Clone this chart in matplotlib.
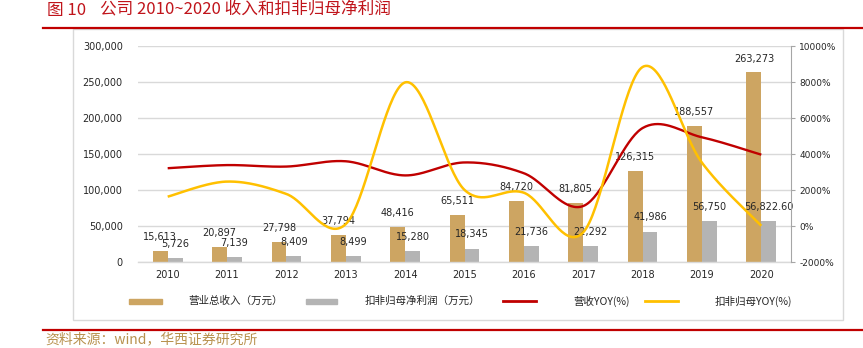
import numpy as np
import matplotlib
matplotlib.use("Agg")
import matplotlib.pyplot as plt
from matplotlib.patches import Rectangle
from matplotlib.lines import Line2D
from matplotlib.ticker import FuncFormatter, FixedLocator

plt.rcParams['font.family'] = ['DejaVu Sans']
CJK = ['Noto Sans CJK SC', 'DejaVu Sans']

# ---- data ----
years = ['2010', '2011', '2012', '2013', '2014', '2015',
         '2016', '2017', '2018', '2019', '2020']
revenue = [15613, 20897, 27798, 37794, 48416, 65511,
           84720, 81805, 126315, 188557, 263273]
profit = [5726, 7139, 8409, 8499, 15280, 18345,
          21736, 22292, 41986, 56750, 56822.60]
revenue_labels = ['15,613', '20,897', '27,798', '37,794', '48,416', '65,511',
                  '84,720', '81,805', '126,315', '188,557', '263,273']
profit_labels = ['5,726', '7,139', '8,409', '8,499', '15,280', '18,345',
                 '21,736', '22,292', '41,986', '56,750', '56,822.60']
revenue_yoy = [3210, 3384, 3302, 3596, 2810, 3531, 2932, 1110, 5441, 4928, 3962]
profit_yoy = [1630, 2468, 1779, 107, 7979, 2006, 1848, -350, 8835, 3516, 13]

legend_names = ['营业总收入（万元）', '扣非归母净利润（万元）', '营收YOY(%)', '扣非归母YOY(%)']

C_TAN = '#CDA562'
C_GREY = '#B4B4B4'
C_RED = '#C00000'
C_YEL = '#FFC000'
C_GRID = '#D9D9D9'
C_TXT = '#262626'

W, H = 863, 348


def fx(px):
    return px / W


def fy(py):
    return 1 - py / H


def smooth(xs, ys, n=40):
    """Bezier smoothing through every point (Catmull-Rom style control points)."""
    P = np.column_stack([xs, ys]).astype(float)
    Pp = np.vstack([P[0], P, P[-1]])
    out = []
    t = np.linspace(0, 1, n)[:, None]
    for i in range(len(P) - 1):
        p0, p1, p2, p3 = Pp[i], Pp[i + 1], Pp[i + 2], Pp[i + 3]
        b1 = p1 + (p2 - p0) / 6
        b2 = p2 - (p3 - p1) / 6
        seg = ((1 - t) ** 3) * p1 + 3 * ((1 - t) ** 2) * t * b1 + 3 * (1 - t) * t ** 2 * b2 + t ** 3 * p2
        out.append(seg if i == 0 else seg[1:])
    out = np.vstack(out)
    return out[:, 0], out[:, 1]


fig = plt.figure(figsize=(W / 100, H / 100), dpi=100)

# frame around the chart
fig.add_artist(Rectangle((fx(73), fy(320)), fx(843) - fx(73), fy(29) - fy(320),
                         transform=fig.transFigure, fill=False, ec=C_GRID, lw=1.0))

ax = fig.add_axes([fx(138), fy(262), fx(791) - fx(138), fy(46) - fy(262)])
x = np.arange(len(years))
bw = 0.25
b1 = ax.bar(x - bw / 2, revenue, bw, color=C_TAN, zorder=2)
b2 = ax.bar(x + bw / 2, profit, bw, color=C_GREY, zorder=2)

for xi, v, s in zip(x, revenue, revenue_labels):
    ax.annotate(s, (xi - bw / 2, v), xytext=(0, 10), textcoords='offset points',
                ha='center', va='center', fontsize=7, color=C_TXT, zorder=5)
for xi, v, s in zip(x, profit, profit_labels):
    ax.annotate(s, (xi + bw / 2, v), xytext=(0, 10.3), textcoords='offset points',
                ha='center', va='center', fontsize=7, color=C_TXT, zorder=5)

ax.set_xlim(-0.5, len(years) - 0.5)
ax.set_ylim(0, 300000)
ax.yaxis.set_major_locator(FixedLocator(np.arange(0, 300001, 50000)))
ax.yaxis.set_major_formatter(FuncFormatter(lambda v, p: f'{v:,.0f}'))
ax.set_xticks(x)
ax.set_xticklabels(years)
ax.tick_params(axis='x', length=0, pad=6, labelsize=7, labelcolor=C_TXT)
ax.tick_params(axis='y', length=0, pad=11, labelsize=7, labelcolor=C_TXT)
ax.grid(axis='y', color=C_GRID, lw=1.0, zorder=0)
ax.set_axisbelow(True)
for s in ['left', 'right', 'top']:
    ax.spines[s].set_visible(False)
ax.spines['bottom'].set_color(C_GRID)
ax.spines['bottom'].set_linewidth(1.0)

ax2 = ax.twinx()
ax2.set_ylim(-2000, 10000)
ax2.yaxis.set_major_locator(FixedLocator(np.arange(-2000, 10001, 2000)))
ax2.yaxis.set_major_formatter(FuncFormatter(lambda v, p: f'{v:.0f}%'))
ax2.tick_params(axis='y', length=3, width=0.8, color='#A6A6A6', pad=3,
                labelsize=6.5, labelcolor=C_TXT)
for s in ['left', 'top', 'bottom']:
    ax2.spines[s].set_visible(False)
ax2.spines['right'].set_color('#A6A6A6')
ax2.spines['right'].set_linewidth(0.8)

sx, sy = smooth(x, revenue_yoy)
ax2.plot(sx, sy, color=C_RED, lw=1.7, zorder=3, solid_capstyle='butt')
sx, sy = smooth(x, profit_yoy)
ax2.plot(sx, sy, color=C_YEL, lw=1.8, zorder=3, solid_capstyle='butt')

# legend row
leg_y = fy(301)
fig.add_artist(Rectangle((fx(129), leg_y - 2.5 / H), fx(162) - fx(129), 5 / H,
                         transform=fig.transFigure, color=C_TAN))
fig.text(fx(188), leg_y, legend_names[0], family=CJK, fontsize=7.6, color=C_TXT, va='center')
fig.add_artist(Rectangle((fx(306), leg_y - 2.5 / H), fx(337) - fx(306), 5 / H,
                         transform=fig.transFigure, color=C_GREY))
fig.text(fx(365), leg_y, legend_names[1], family=CJK, fontsize=7.6, color=C_TXT, va='center')
fig.add_artist(Line2D([fx(503), fx(536)], [leg_y, leg_y], transform=fig.transFigure,
                      color=C_RED, lw=2))
fig.text(fx(573), leg_y, legend_names[2], family=CJK, fontsize=7.6, color=C_TXT, va='center')
fig.add_artist(Line2D([fx(645), fx(678)], [leg_y, leg_y], transform=fig.transFigure,
                      color=C_YEL, lw=2))
fig.text(fx(715), leg_y, legend_names[3], family=CJK, fontsize=7.6, color=C_TXT, va='center')

# title and rules
fig.text(fx(47), fy(10), '图 10', family=CJK, fontsize=12, color='#C0141B', va='center')
fig.text(fx(100), fy(10), '公司 2010~2020 收入和扣非归母净利润', family=CJK, fontsize=12,
         color='#C0141B', va='center')
fig.add_artist(Line2D([fx(43), 1], [fy(27.5), fy(27.5)], transform=fig.transFigure,
                      color=C_RED, lw=1.6))
fig.add_artist(Line2D([fx(43), 1], [fy(330), fy(330)], transform=fig.transFigure,
                      color=C_RED, lw=1.6))
fig.text(fx(45), fy(339), '资料来源：wind，华西证券研究所', family=CJK, fontsize=10,
         color='#B8924F', va='center')

fig.savefig('out.png', dpi=100)
